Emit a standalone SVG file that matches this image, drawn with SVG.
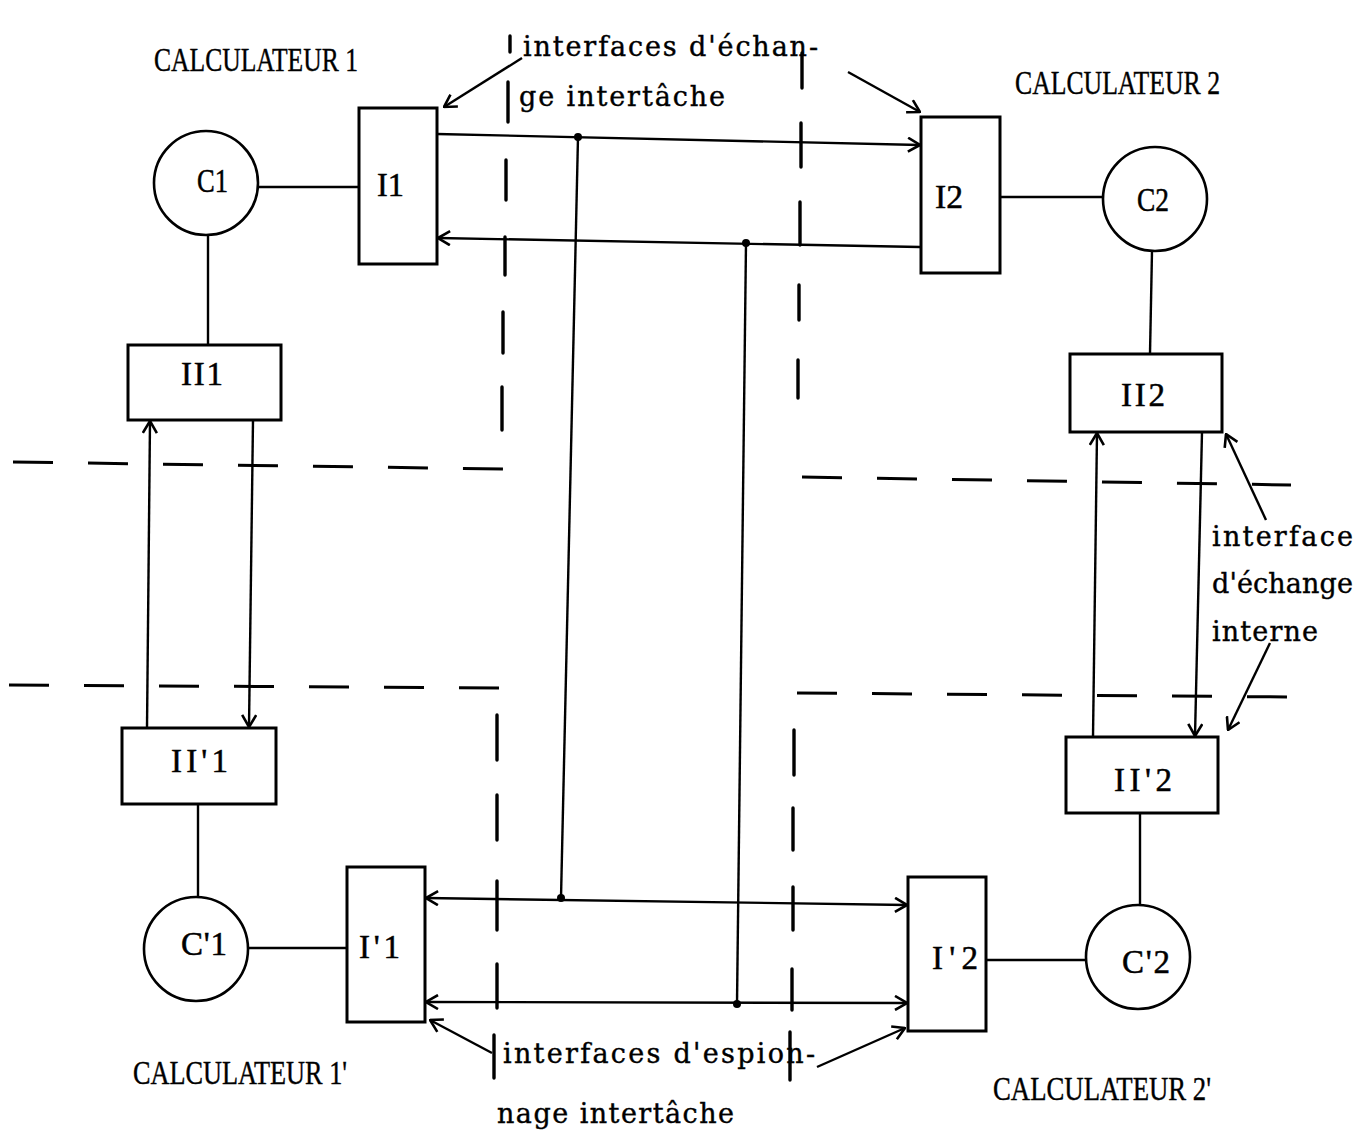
<svg xmlns="http://www.w3.org/2000/svg" width="1372" height="1131" viewBox="0 0 1372 1131">
<defs>
<style>
.box{fill:none;stroke:#000;stroke-width:3}
.circ{fill:none;stroke:#000;stroke-width:2.6}
.ln{fill:none;stroke:#000;stroke-width:2.4}
.hd{fill:none;stroke:#000;stroke-width:3;stroke-dasharray:40 35}
.vd{fill:none;stroke:#000;stroke-width:3.4;stroke-linecap:round}
.nl{font-family:"Liberation Serif",serif;font-size:33px;fill:#000;stroke:#000;stroke-width:0.5}
.cal{font-family:"Liberation Serif",serif;font-size:33px;fill:#000;stroke:#000;stroke-width:0.4}
.tw{font-family:"DejaVu Serif","Liberation Serif",serif;font-size:27px;fill:#000;stroke:#000;stroke-width:0.4}
.dot{fill:#000}
</style>
<marker id="ah" viewBox="0 0 16 16" refX="15" refY="8" markerWidth="16" markerHeight="16" markerUnits="userSpaceOnUse" orient="auto-start-reverse">
<path d="M3,1 L15,8 L3,15" fill="none" stroke="#000" stroke-width="2.6"/>
</marker>
</defs>
<rect width="1372" height="1131" fill="#fff"/>

<g id="dashed-boundaries">
<line class="hd" x1="13" y1="462" x2="503" y2="469"/>
<line class="hd" x1="9" y1="685" x2="500" y2="688"/>
<line class="hd" x1="802" y1="477" x2="1291" y2="485"/>
<line class="hd" x1="797" y1="693" x2="1290" y2="697"/>
<path class="vd" d="M510,36 L510,52 M508,82 L508,122 M506,160 L506,200 M505,237 L505,275 M503,312 L503,353 M502,387 L502,430"/>
<path class="vd" d="M802,53 L802,88 M801,123 L801,167 M800,202 L800,245 M799,285 L799,320 M798,360 L798,398"/>
<path class="vd" d="M497,715 L497,760 M497,795 L497,840 M497,881 L497,930 M497,964 L497,1008 M494,1035 L494,1078"/>
<path class="vd" d="M794,730 L794,775 M793,808 L793,850 M793,887 L793,930 M792,969 L792,1010 M790,1032 L790,1080"/>
</g>

<g id="connectors">
<line class="ln" x1="258" y1="187" x2="359" y2="187"/>
<line class="ln" x1="208" y1="235" x2="208" y2="345"/>
<line class="ln" x1="253" y1="420" x2="249" y2="727" marker-end="url(#ah)"/>
<line class="ln" x1="147" y1="728" x2="150" y2="421" marker-end="url(#ah)"/>
<line class="ln" x1="198" y1="804" x2="198" y2="897"/>
<line class="ln" x1="249" y1="948" x2="347" y2="948"/>
<line class="ln" x1="1000" y1="197" x2="1103" y2="197"/>
<line class="ln" x1="1152" y1="251" x2="1150" y2="354"/>
<line class="ln" x1="1093" y1="737" x2="1097" y2="433" marker-end="url(#ah)"/>
<line class="ln" x1="1202" y1="432" x2="1195" y2="736" marker-end="url(#ah)"/>
<line class="ln" x1="1140" y1="813" x2="1140" y2="905"/>
<line class="ln" x1="986" y1="960" x2="1087" y2="960"/>
<line class="ln" x1="437" y1="134" x2="920" y2="145" marker-end="url(#ah)"/>
<line class="ln" x1="920" y1="247" x2="438" y2="238" marker-end="url(#ah)"/>
<line class="ln" x1="426" y1="898" x2="907" y2="905" marker-start="url(#ah)" marker-end="url(#ah)"/>
<line class="ln" x1="426" y1="1002" x2="907" y2="1003" marker-start="url(#ah)" marker-end="url(#ah)"/>
<line class="ln" x1="578" y1="137" x2="561" y2="898" stroke-width="2.8"/>
<line class="ln" x1="746" y1="243" x2="737" y2="1004" stroke-width="2.8"/>
<circle class="dot" cx="578" cy="137" r="4"/>
<circle class="dot" cx="746" cy="243" r="4"/>
<circle class="dot" cx="561" cy="898" r="4"/>
<circle class="dot" cx="737" cy="1004" r="4"/>
<line class="ln" x1="522" y1="58" x2="444" y2="107" marker-end="url(#ah)"/>
<line class="ln" x1="848" y1="72" x2="920" y2="112" marker-end="url(#ah)"/>
<line class="ln" x1="1266" y1="520" x2="1226" y2="434" marker-end="url(#ah)" stroke-width="2.8"/>
<line class="ln" x1="1270" y1="643" x2="1228" y2="730" marker-end="url(#ah)" stroke-width="2.8"/>
<line class="ln" x1="492" y1="1053" x2="430" y2="1020" marker-end="url(#ah)" stroke-width="2.8"/>
<line class="ln" x1="817" y1="1067" x2="905" y2="1028" marker-end="url(#ah)" stroke-width="2.8"/>
</g>

<g id="C1"><circle class="circ" cx="206" cy="183" r="52"/><text class="nl" x="197" y="192" textLength="31" lengthAdjust="spacingAndGlyphs">C1</text></g>
<g id="I1"><rect class="box" x="359" y="108" width="78" height="156"/><text class="nl" x="377" y="196" textLength="27" lengthAdjust="spacingAndGlyphs">I1</text></g>
<g id="I2"><rect class="box" x="921" y="117" width="79" height="156"/><text class="nl" x="935" y="208" textLength="28" lengthAdjust="spacingAndGlyphs">I2</text></g>
<g id="C2"><circle class="circ" cx="1155" cy="199" r="52"/><text class="nl" x="1137" y="211" textLength="32" lengthAdjust="spacingAndGlyphs">C2</text></g>
<g id="II1"><rect class="box" x="128" y="345" width="153" height="75"/><text class="nl" x="181" y="385" textLength="42" lengthAdjust="spacing">II1</text></g>
<g id="II2"><rect class="box" x="1070" y="354" width="152" height="78"/><text class="nl" x="1121" y="406" textLength="44" lengthAdjust="spacing">II2</text></g>
<g id="IIp1"><rect class="box" x="122" y="728" width="154" height="76"/><text class="nl" x="171" y="772" textLength="57" lengthAdjust="spacing">II'1</text></g>
<g id="IIp2"><rect class="box" x="1066" y="737" width="152" height="76"/><text class="nl" x="1114" y="791" textLength="58" lengthAdjust="spacing">II'2</text></g>
<g id="Cp1"><circle class="circ" cx="196" cy="949" r="52"/><text class="nl" x="181" y="955" textLength="46" lengthAdjust="spacing">C'1</text></g>
<g id="Ip1"><rect class="box" x="347" y="867" width="78" height="155"/><text class="nl" x="359" y="958" textLength="41" lengthAdjust="spacing">I'1</text></g>
<g id="Ip2"><rect class="box" x="908" y="877" width="78" height="154"/><text class="nl" x="932" y="969" textLength="46" lengthAdjust="spacing">I'2</text></g>
<g id="Cp2"><circle class="circ" cx="1138" cy="957" r="52"/><text class="nl" x="1122" y="973" textLength="48" lengthAdjust="spacing">C'2</text></g>

<g id="labels">
<text class="cal" x="154" y="71" textLength="204" lengthAdjust="spacingAndGlyphs">CALCULATEUR 1</text>
<text class="cal" x="1015" y="94" textLength="205" lengthAdjust="spacingAndGlyphs">CALCULATEUR 2</text>
<text class="cal" x="133" y="1084" textLength="214" lengthAdjust="spacingAndGlyphs">CALCULATEUR 1'</text>
<text class="cal" x="993" y="1100" textLength="218" lengthAdjust="spacingAndGlyphs">CALCULATEUR 2'</text>
<text class="tw" x="523" y="56" textLength="295" lengthAdjust="spacing">interfaces d'échan-</text>
<text class="tw" x="519" y="106" textLength="206" lengthAdjust="spacing">ge intertâche</text>
<text class="tw" x="1212" y="546" textLength="141" lengthAdjust="spacing">interface</text>
<text class="tw" x="1212" y="593" textLength="141" lengthAdjust="spacing">d'échange</text>
<text class="tw" x="1212" y="641" textLength="106" lengthAdjust="spacing">interne</text>
<text class="tw" x="503" y="1063" textLength="312" lengthAdjust="spacing">interfaces d'espion-</text>
<text class="tw" x="497" y="1123" textLength="237" lengthAdjust="spacing">nage intertâche</text>
</g>
</svg>
